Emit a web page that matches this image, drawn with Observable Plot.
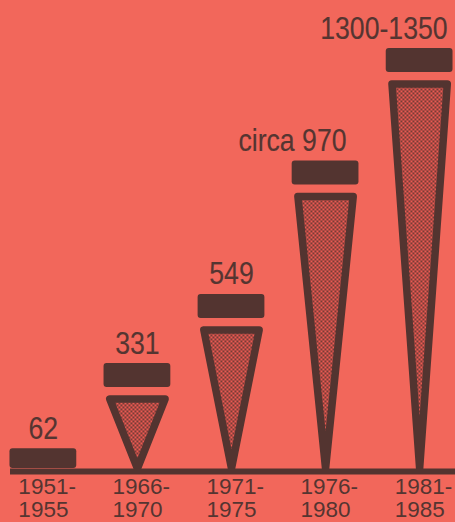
<!DOCTYPE html>
<html><head><meta charset="utf-8">
<script src="https://cdn.jsdelivr.net/npm/d3@7"></script>
<script src="https://cdn.jsdelivr.net/npm/@observablehq/plot@0.6"></script>
<style>
html,body{margin:0;padding:0;background:#f2675b;overflow:hidden;}
#chart svg{display:block;}
</style></head><body><div id="chart"></div>
<script>
// Data
const periodLabels = ["1951-\n1955", "1966-\n1970", "1971-\n1975", "1976-\n1980", "1981-\n1985"];
const values = [62, 331, 549, 970, 1325];
const valueLabels = ["62", "331", "549", "circa 970", "1300-1350"];

// Layout / style
const W = 455, H = 522, mT = 48, mB = 54, mL = 9, mR = 2;
const yMax = 1325;
const unitsPerPx = yMax / (H - mT - mB);
const capPx = 24, triTopPx = 35.5, triHalf = 0.294, capHalf = 0.355;
const dark = "#533430", textColor = "#553531", bg = "#f2675b";
const labelFont = "'Liberation Sans', Arial, sans-serif";

const rows = values.map((v, i) => ({i, v, label: valueLabels[i], period: periodLabels[i]}));
const caps = rows.map(d => ({i: d.i, y1: Math.max(0, d.v - capPx * unitsPerPx), y2: d.v}));
const tris = rows.filter(d => d.v - triTopPx * unitsPerPx > 0).flatMap(d => {
  const top = d.v - triTopPx * unitsPerPx;
  return [{z: d.i, x: d.i - triHalf, y: top}, {z: d.i, x: d.i + triHalf, y: top}, {z: d.i, x: d.i, y: 0}];
});

const valueText = {y: "v", text: "label", dy: -10, lineAnchor: "bottom", fontSize: 31, fill: textColor, stroke: textColor, strokeWidth: 0.15, fontFamily: labelFont, className: "vlabel"};

const svg = Plot.plot({
  width: W, height: H,
  marginTop: mT, marginBottom: mB, marginLeft: mL, marginRight: mR,
  style: {background: bg, color: textColor, overflow: "visible"},
  x: {type: "linear", domain: [-0.36, 4.36], axis: null},
  y: {domain: [0, yMax], axis: null},
  marks: [
    Plot.line(tris, {x: "x", y: "y", z: "z", curve: "linear-closed", fill: "url(#dots)", stroke: dark, strokeWidth: 7.5, strokeLinejoin: "round"}),
    Plot.ruleY([0], {stroke: dark, strokeWidth: 6, dy: 3, insetLeft: 1, insetRight: -2}),
    Plot.rect(caps, {x1: d => d.i - capHalf, x2: d => d.i + capHalf, y1: "y1", y2: "y2", fill: dark, rx: 3}),
    Plot.text(rows.filter(d => d.i < 3), {...valueText, x: "i"}),
    Plot.text(rows.filter(d => d.i === 3), {...valueText, x: "i", dx: 21, textAnchor: "end"}),
    Plot.text(rows.filter(d => d.i === 4), {...valueText, x: "i", dx: 28, textAnchor: "end"}),
    Plot.text(rows, {x: "i", frameAnchor: "bottom", text: "period", textAnchor: "start", dx: -25, dy: 9, lineAnchor: "top", fontSize: 22.5, lineHeight: 1.02, fill: textColor, fontFamily: labelFont})
  ]
});

// condense the value labels horizontally (printed condensed face)
d3.select(svg).selectAll("g.vlabel text").each(function() {
  const t = this.getAttribute("transform") || "";
  this.setAttribute("transform", (t + " scale(0.86,1)").trim());
});

// stipple pattern for the triangles
const defs = d3.select(svg).insert("defs", ":first-child");
const pat = defs.append("pattern").attr("id", "dots").attr("width", 4).attr("height", 4).attr("patternUnits", "userSpaceOnUse");
pat.append("rect").attr("width", 4).attr("height", 4).attr("fill", "#ec5a52");
pat.append("rect").attr("width", 1.8).attr("height", 1.8).attr("fill", "#5a3430");
pat.append("rect").attr("x", 2).attr("y", 2).attr("width", 1.8).attr("height", 1.8).attr("fill", "#5a3430");

document.getElementById("chart").appendChild(svg);
</script>
</body></html>
